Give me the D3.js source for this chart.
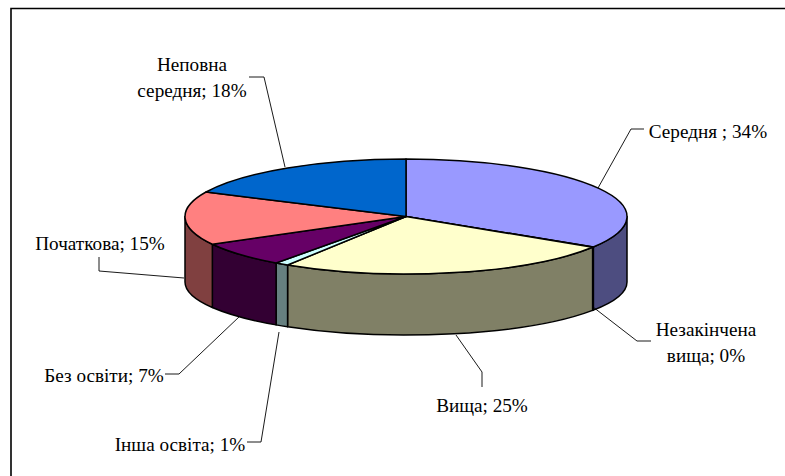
<!DOCTYPE html>
<html><head><meta charset="utf-8">
<script src="https://cdn.jsdelivr.net/npm/d3@7"></script>
<style>html,body{margin:0;background:#fff}svg{display:block}text{font-family:"Liberation Serif",serif;font-size:19.2px;fill:#000}</style>
</head><body><svg id="c" width="785" height="476"></svg>
<script>
const categories=["Середня","Незакінчена вища","Вища","Інша освіта","Без освіти","Початкова","Неповна середня"];
const values=[33.9,0.1,25,1,7,15,18];
const percentLabels=["34%","0%","25%","1%","7%","15%","18%"];
const topColors=["#9999FF","#993366","#FFFFCC","#CCFFFF","#660066","#FF8080","#0066CC"];
const sideColors=["#4D4D80","#4D1A33","#808066","#668080","#330033","#804040","#003366"];
const labelLines=[["Середня ; 34%"],["Незакінчена","вища; 0%"],["Вища; 25%"],["Інша освіта; 1%"],["Без освіти; 7%"],["Початкова; 15%"],["Неповна","середня; 18%"]];
const labelAnchor=[[708,138],[706,336],[482,412],[180,451],[104,382],[100,250],[192,71]];
const leaders=[[[598,188],[631,129],[644,129]],[[593,307],[637,341],[651,341]],[[456,335],[482,372],[482,387]],[[279,332],[261,442],[247,442]],[[240,316],[179,374],[165,374]],[[184,278],[99,271],[99,257]],[[285,167],[264,77],[249,77]]];

const cx=406,cy=216.5,rx=221,ry=57.5,cyb=282,ryb=53;
const x=d3.scaleLinear().domain([-1,1]).range([cx-rx,cx+rx]);
const y=d3.scaleLinear().domain([-1,1]).range([cy-ry,cy+ry]);
const yb=d3.scaleLinear().domain([-1,1]).range([cyb-ryb,cyb+ryb]);
const px=a=>x(Math.sin(a)),py=a=>y(-Math.cos(a)),pb=a=>yb(-Math.cos(a));
const arcs=d3.pie().sort(null)(values);
const svg=d3.select("#c");
svg.append("path").attr("d","M11,476V8.5H785").attr("fill","none").attr("stroke","#000").attr("stroke-width",1.6);

const large=(a0,a1)=>Math.abs(a1-a0)>Math.PI?1:0;
const wallPath=d=>{const a0=Math.max(d.startAngle,Math.PI/2),a1=Math.min(d.endAngle,3*Math.PI/2);
  if(a1<=a0)return null;
  return `M${px(a0)},${py(a0)}A${rx},${ry} 0 ${large(a0,a1)} 1 ${px(a1)},${py(a1)}L${px(a1)},${pb(a1)}A${rx},${ryb} 0 ${large(a0,a1)} 0 ${px(a0)},${pb(a0)}Z`;};
const topPath=d=>`M${cx},${cy}L${px(d.startAngle)},${py(d.startAngle)}A${rx},${ry} 0 ${large(d.startAngle,d.endAngle)} 1 ${px(d.endAngle)},${py(d.endAngle)}Z`;

const stroke=s=>s.attr("stroke","#000").attr("stroke-width",1.5).attr("stroke-linejoin","round");
svg.append("g").selectAll("path").data(arcs.filter(wallPath)).join("path").attr("d",wallPath).attr("fill",d=>sideColors[d.index]).call(stroke);
svg.append("g").selectAll("path").data(arcs).join("path").attr("d",topPath).attr("fill",d=>topColors[d.index]).call(stroke);

svg.append("g").selectAll("path").data(leaders).join("path").attr("d",d3.line()).attr("fill","none").attr("stroke","#000").attr("stroke-width",0.9);
const g=svg.append("g").selectAll("text").data(labelLines).join("text").attr("text-anchor","middle")
 .attr("x",(d,i)=>labelAnchor[i][0]).attr("y",(d,i)=>labelAnchor[i][1]);
g.selectAll("tspan").data(d=>d).join("tspan").attr("x",function(){return this.parentNode.getAttribute("x")}).attr("dy",(d,i)=>i?25.5:0).text(d=>d);
</script></body></html>
